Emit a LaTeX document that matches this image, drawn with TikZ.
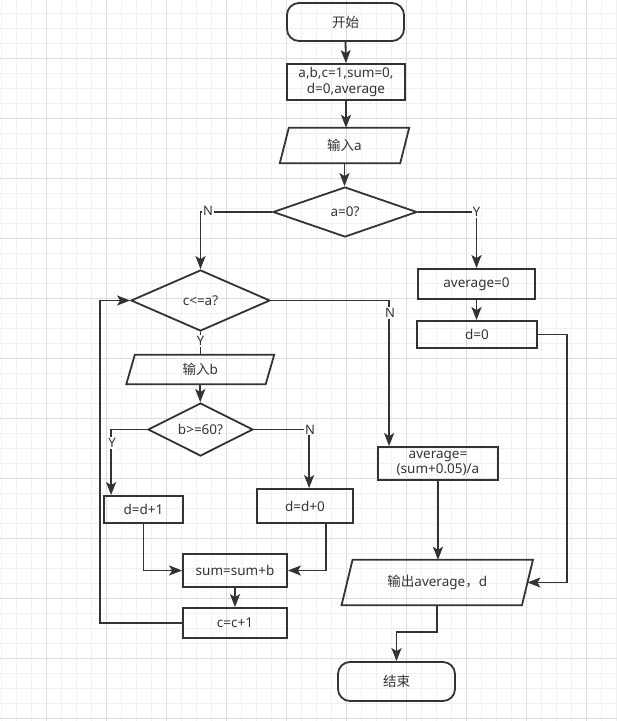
\documentclass[tikz,border=0pt]{standalone}
\usepackage{fontspec}
\setmainfont{Noto Sans}
\newfontfamily\cjk{Noto Sans CJK SC}
\usetikzlibrary{shapes.geometric,arrows.meta}
\definecolor{ln}{HTML}{333333}
\definecolor{tx}{HTML}{333333}
\definecolor{gminor}{HTML}{F1F1F1}
\definecolor{gmajor}{HTML}{DEDEDE}
\begin{document}
\begin{tikzpicture}[x=1pt,y=-1pt,
  every node/.style={font=\fontsize{13.5}{15.5}\selectfont, text=tx},
  box/.style={draw=ln, line width=1.8pt, rectangle, inner sep=0pt, align=center},
  term/.style={box, rounded corners=12pt},
  dia/.style={draw=ln, line width=1.8pt, diamond, inner sep=0pt, aspect=2.5},
  io/.style={rectangle, inner sep=0pt, align=center},
  para/.style={draw=ln, line width=1.8pt},
  conn/.style={draw=ln, line width=1.8pt},
  arr/.style={conn, -{Stealth[length=13pt,width=10pt,inset=3pt]}},
  lbl/.style={fill=white, inner sep=1pt, font=\fontsize{13}{14}\selectfont}
]
\useasboundingbox (0,0) rectangle (617,721);
% grid
\foreach \gx in {1,16,...,616} \draw[gminor, line width=0.8pt] (\gx,0) -- (\gx,721);
\foreach \gy in {13,28,...,720} \draw[gminor, line width=0.8pt] (0,\gy) -- (617,\gy);
\foreach \gx in {46,106,...,616} \draw[gmajor, line width=0.8pt] (\gx,0) -- (\gx,721);
\foreach \gy in {58,118,...,720} \draw[gmajor, line width=0.8pt] (0,\gy) -- (617,\gy);

% nodes
\node[term, minimum width=117pt, minimum height=38pt] (start) at (345.5,22) {{\cjk 开始}};
\node[box, minimum width=118pt, minimum height=36pt] (init) at (346,82) {a,b,c=1,sum=0,\\d=0,average};
\node[io, minimum width=120pt, minimum height=35pt] (inA) at (344.5,145.5) {{\cjk 输入}a};
\node[dia, minimum width=144pt, minimum height=50pt] (dA) at (345,212) {a=0?};
\node[dia, minimum width=139pt, minimum height=61pt] (dC) at (200.5,300.5) {c<=a?};
\node[io, minimum width=139pt, minimum height=29pt] (inB) at (200.25,369.5) {{\cjk 输入}b};
\node[dia, minimum width=105pt, minimum height=53pt] (dB) at (200.5,429.5) {b>=60?};
\node[box, minimum width=79pt, minimum height=27pt] (dd1) at (143.5,509.5) {d=d+1};
\node[box, minimum width=96pt, minimum height=34pt] (dd0) at (305,506) {d=d+0};
\node[box, minimum width=104pt, minimum height=33pt] (sum) at (235,570.5) {sum=sum+b};
\node[box, minimum width=104pt, minimum height=30pt] (cc) at (235,623) {c=c+1};
\node[box, minimum width=117pt, minimum height=30pt] (avg0) at (476.5,284) {average=0};
\node[box, minimum width=120pt, minimum height=27pt] (d0) at (477,334.5) {d=0};
\node[box, minimum width=120pt, minimum height=33pt] (avgF) at (438,463.5) {average=\\(sum+0.05)/a};
\node[io, minimum width=180pt, minimum height=45pt] (out) at (437.25,582.5) {{\cjk 输出}average{\cjk ，}d};
\node[term, minimum width=117pt, minimum height=39pt] (end) at (396.5,681.5) {{\cjk 结束}};

% parallelograms
\draw[para] ([xshift=4.5pt]inA.north west) -- ([xshift=4.5pt]inA.north east) -- ([xshift=-4.5pt]inA.south east) -- ([xshift=-4.5pt]inA.south west) -- cycle;
\draw[para] ([xshift=4.25pt]inB.north west) -- ([xshift=4.25pt]inB.north east) -- ([xshift=-4.25pt]inB.south east) -- ([xshift=-4.25pt]inB.south west) -- cycle;
\draw[para] ([xshift=5.5pt]out.north west) -- ([xshift=5.5pt]out.north east) -- ([xshift=-5.5pt]out.south east) -- ([xshift=-5.5pt]out.south west) -- cycle;

% connectors
\draw[arr] (start.south) -- (init.north);
\draw[arr] (init.south) -- (init.south |- inA.north);
\draw[arr] (inA.south) -- (inA.south |- dA.north);
\draw[arr] (dA.west) -| (dC.north);
\draw[arr] (dA.east) -| (avg0.north);
\draw[arr] (avg0.south) -- (avg0.south |- d0.north);
\draw[arr] (d0.east) -- ++(29,0) |- (out.east);
\draw[arr] (dC.east) -| ([xshift=12pt]avgF.north west);
\draw[arr] (avgF.south) -- (avgF.south |- out.north);
\draw[arr] (out.south) -- ++(0,27) -| (end.north);
\draw[conn] (dC.south) -- (dC.south |- inB.north);
\draw[arr] (inB.south) -- (inB.south |- dB.north);
\draw[arr] (dB.west) -| ([xshift=8pt]dd1.north west);
\draw[arr] (dB.east) -| ([xshift=53pt]dd0.north west);
\draw[arr] (dd1.south) |- (sum.west);
\draw[arr] ([xshift=70pt]dd0.south west) |- (sum.east);
\draw[arr] (sum.south) -- (cc.north);
\draw[arr] (cc.west) -- ++(-82,0) |- (dC.west);

% labels
\node[lbl] (lN1) at (208,211) {N};
\node[lbl] (lY1) at (476.5,212) {Y};
\node[lbl] (lN2) at (390,313) {N};
\node[lbl] (lY2) at (200.5,341) {Y};
\node[lbl] (lY3) at (112,443) {Y};
\node[lbl] (lN3) at (310,429.5) {N};
\end{tikzpicture}
\end{document}
